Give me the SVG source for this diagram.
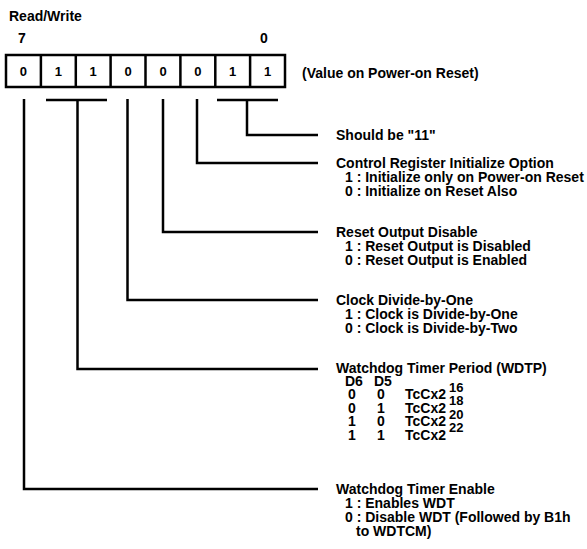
<svg xmlns="http://www.w3.org/2000/svg" width="587" height="549" viewBox="0 0 587 549">
<style>
text{font-family:"Liberation Sans",Arial,sans-serif;font-weight:bold;font-size:14px;fill:#000}
.bit{font-size:13px;text-anchor:middle}
.mid{text-anchor:middle}
.sup{font-size:13px}
.ln{fill:none;stroke:#000;stroke-width:2.5;stroke-linecap:butt;stroke-linejoin:miter}
.cell{fill:#fff;stroke:#000;stroke-width:2}
</style>
<rect width="587" height="549" fill="#fff"/>
<g id="header">
<text x="9" y="21">Read/Write</text>
<text x="22" y="43" class="mid">7</text>
<text x="264" y="43" class="mid">0</text>
</g>
<g id="register">
<rect x="6" y="55" width="279" height="32" fill="#fff" stroke="#000" stroke-width="2.5"/>
<path class="ln" d="M40.9 55V87M75.8 55V87M110.6 55V87M145.5 55V87M180.4 55V87M215.3 55V87M250.1 55V87" stroke-width="2"/>
<text class="bit" x="23.4" y="76">0</text>
<text class="bit" x="58.3" y="76">1</text>
<text class="bit" x="93.2" y="76">1</text>
<text class="bit" x="128.1" y="76">0</text>
<text class="bit" x="163" y="76">0</text>
<text class="bit" x="197.8" y="76">0</text>
<text class="bit" x="232.7" y="76">1</text>
<text class="bit" x="267.6" y="76">1</text>
<text x="302" y="78">(Value on Power-on Reset)</text>
</g>
<g id="connectors">
<path class="ln" d="M217 100H278M247 100V135H318"/>
<path class="ln" d="M197 99V163H318"/>
<path class="ln" d="M163 99V232H318"/>
<path class="ln" d="M127.5 99V300H318"/>
<path class="ln" d="M46 100H107M77.5 100V369H318"/>
<path class="ln" d="M24 99V489H318"/>
</g>
<g id="bits10">
<text x="336" y="140">Should be "11"</text>
</g>
<g id="bit2">
<text x="336" y="168">Control Register Initialize Option</text>
<text x="345" y="182">1 : Initialize only on Power-on Reset</text>
<text x="345" y="196">0 : Initialize on Reset Also</text>
</g>
<g id="bit3">
<text x="336" y="237">Reset Output Disable</text>
<text x="345" y="251">1 : Reset Output is Disabled</text>
<text x="345" y="265">0 : Reset Output is Enabled</text>
</g>
<g id="bit4">
<text x="336" y="305">Clock Divide-by-One</text>
<text x="345" y="319">1 : Clock is Divide-by-One</text>
<text x="345" y="333">0 : Clock is Divide-by-Two</text>
</g>
<g id="bits65">
<text x="336" y="373">Watchdog Timer Period (WDTP)</text>
<text x="345" y="386">D6</text>
<text x="374" y="386">D5</text>
<text class="mid" x="352" y="399">0</text><text class="mid" x="381" y="399">0</text><text x="405" y="399">TcCx2</text><text class="sup" x="449" y="392">16</text>
<text class="mid" x="352" y="413">0</text><text class="mid" x="381" y="413">1</text><text x="405" y="413">TcCx2</text><text class="sup" x="449" y="405">18</text>
<text class="mid" x="352" y="426">1</text><text class="mid" x="381" y="426">0</text><text x="405" y="426">TcCx2</text><text class="sup" x="449" y="419">20</text>
<text class="mid" x="352" y="440">1</text><text class="mid" x="381" y="440">1</text><text x="405" y="440">TcCx2</text><text class="sup" x="449" y="432">22</text>
</g>
<g id="bit7">
<text x="336" y="494">Watchdog Timer Enable</text>
<text x="345" y="508">1 : Enables WDT</text>
<text x="345" y="522">0 : Disable WDT (Followed by B1h</text>
<text x="356" y="536">to WDTCM)</text>
</g>
</svg>
